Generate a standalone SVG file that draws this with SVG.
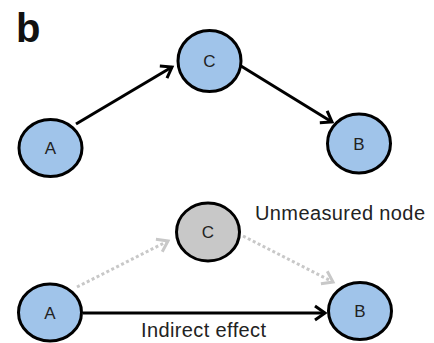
<svg xmlns="http://www.w3.org/2000/svg" width="434" height="343" viewBox="0 0 434 343">
  <style>
    .node { stroke: #000; stroke-width: 3; }
    .blue { fill: #a0c4ea; }
    .grey { fill: #c8c8c8; }
    .lbl { font-family: "Liberation Sans", Arial, sans-serif; font-size: 17px; fill: #222; text-anchor: middle; }
    .note { font-family: "Liberation Sans", Arial, sans-serif; font-size: 20px; fill: #222; }
    .edge { fill: none; stroke: #000; stroke-width: 3; }
    .faint { fill: none; stroke: #c8c8c8; stroke-width: 3; stroke-dasharray: 3 2.5; }
  </style>
  <defs>
    <marker id="arrow" markerUnits="userSpaceOnUse" markerWidth="16" markerHeight="16" refX="12" refY="8" orient="auto" overflow="visible">
      <path d="M2,1 L12,8 L2,15" fill="none" stroke="#000" stroke-width="3"/>
    </marker>
    <marker id="arrow-faint" markerUnits="userSpaceOnUse" markerWidth="16" markerHeight="16" refX="12" refY="8" orient="auto" overflow="visible">
      <path d="M2,1 L12,8 L2,15" fill="none" stroke="#c8c8c8" stroke-width="3"/>
    </marker>
  </defs>

  <text x="16" y="42" font-family="Liberation Sans, Arial, sans-serif" font-size="40" font-weight="bold" fill="#111">b</text>

  <g id="connectors">
    <line class="edge" x1="76" y1="124" x2="172" y2="67" marker-end="url(#arrow)"/>
    <line class="edge" x1="241" y1="66" x2="332" y2="122" marker-end="url(#arrow)"/>
    <line class="faint" x1="77" y1="287" x2="168" y2="241" marker-end="url(#arrow-faint)"/>
    <line class="faint" x1="243" y1="236" x2="333" y2="282" marker-end="url(#arrow-faint)"/>
    <line class="edge" x1="83" y1="313" x2="325" y2="313" marker-end="url(#arrow)"/>
  </g>

  <g id="top-A">
    <ellipse class="node blue" cx="50.5" cy="148" rx="31.5" ry="28.5"/>
    <text class="lbl" x="50.5" y="154">A</text>
  </g>
  <g id="top-C">
    <ellipse class="node blue" cx="209.5" cy="61" rx="31.5" ry="30.5"/>
    <text class="lbl" x="209.5" y="67">C</text>
  </g>
  <g id="top-B">
    <ellipse class="node blue" cx="359" cy="143.5" rx="31.5" ry="29.5"/>
    <text class="lbl" x="359" y="149.5">B</text>
  </g>

  <g id="bottom-C">
    <ellipse class="node grey" cx="208" cy="232" rx="31.5" ry="29"/>
    <text class="lbl" x="208" y="238">C</text>
  </g>
  <g id="bottom-A">
    <ellipse class="node blue" cx="50" cy="312.5" rx="31.5" ry="28.5"/>
    <text class="lbl" x="50" y="318.5">A</text>
  </g>
  <g id="bottom-B">
    <ellipse class="node blue" cx="360" cy="311" rx="31.5" ry="28.5"/>
    <text class="lbl" x="360" y="317">B</text>
  </g>

  <text class="note" x="255" y="220" textLength="170" lengthAdjust="spacing">Unmeasured node</text>
  <text class="note" x="141" y="337" textLength="125" lengthAdjust="spacing">Indirect effect</text>
</svg>
